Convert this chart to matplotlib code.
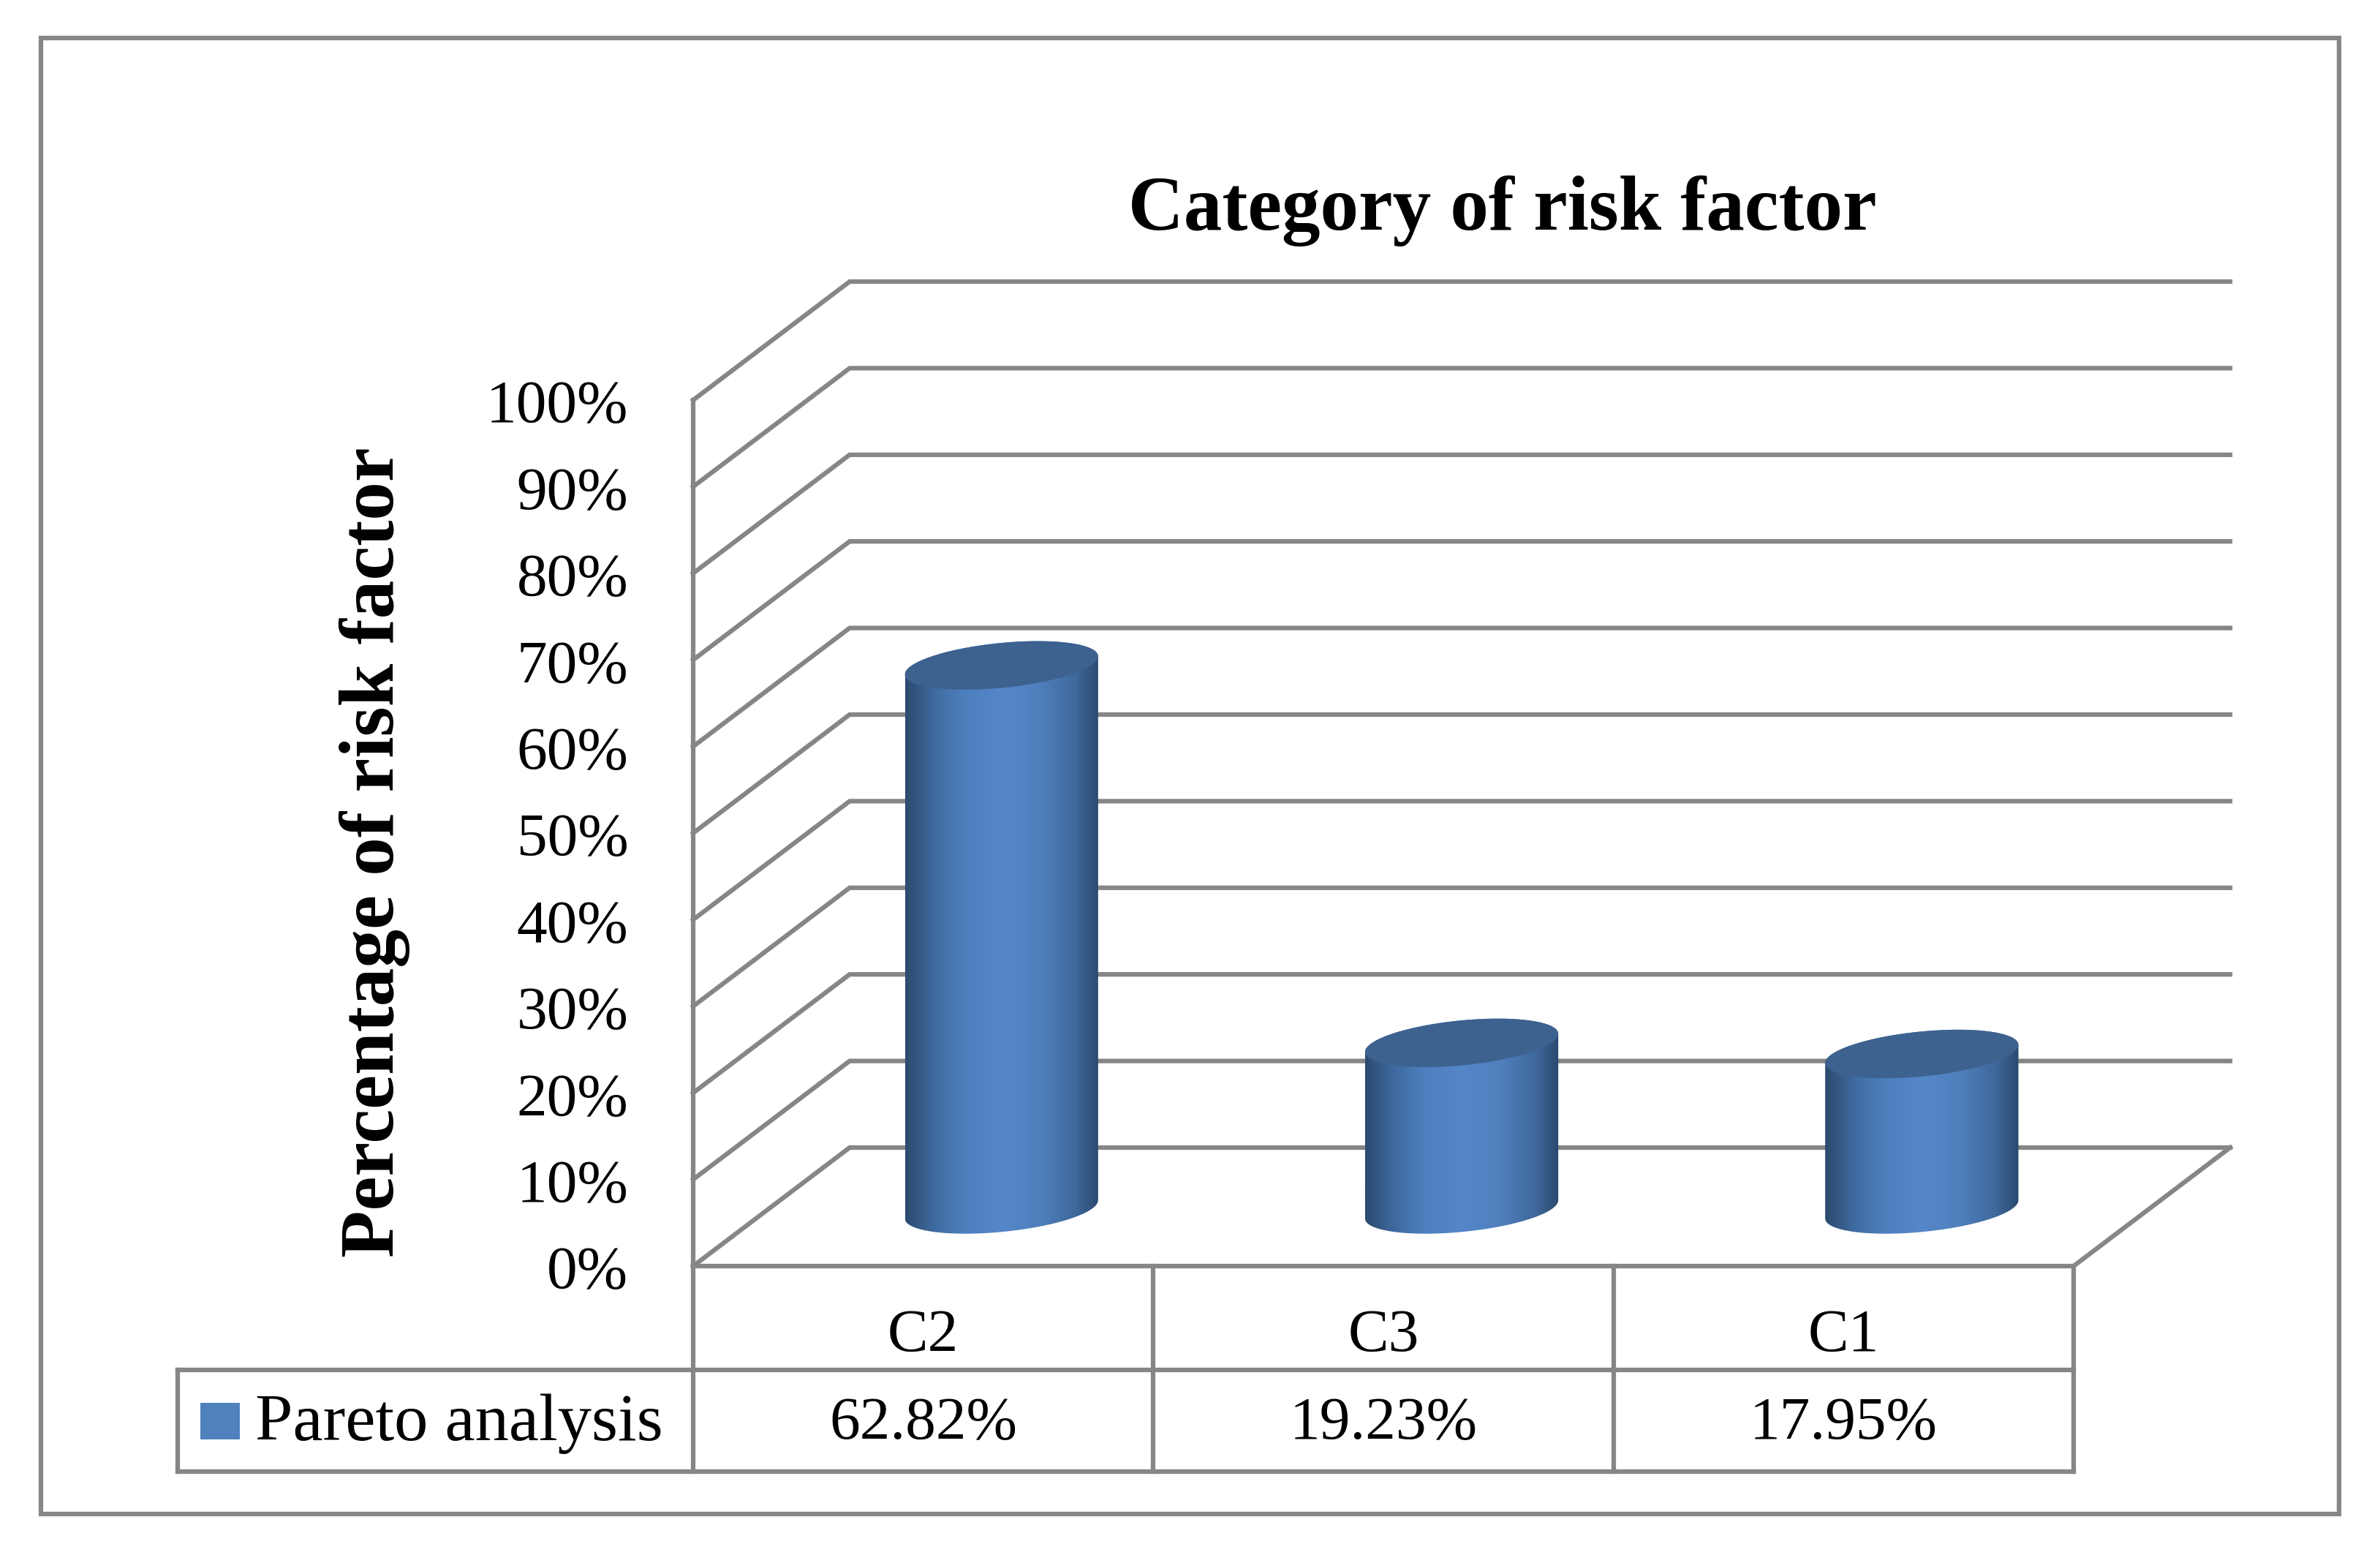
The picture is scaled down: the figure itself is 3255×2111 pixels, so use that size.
import numpy as np
import matplotlib.pyplot as plt
from matplotlib.patches import PathPatch, Rectangle
from matplotlib.path import Path
from matplotlib.colors import LinearSegmentedColormap

categories = ['C2', 'C3', 'C1']
values = [62.82, 19.23, 17.95]
value_labels = ['62.82%', '19.23%', '17.95%']
y_ticks = [0, 10, 20, 30, 40, 50, 60, 70, 80, 90, 100]
series_name = 'Pareto analysis'

W, H = 3255, 2111
GRID = '#868686'
LW = 1.5
plt.rcParams['font.family'] = ['Liberation Serif', 'DejaVu Serif']

fig = plt.figure(figsize=(W / 300, H / 300), dpi=300)
# axes covers the front plane of the 3D box
x0, x1, y0, y1 = 948, 2836, 1731, 547
ax = fig.add_axes([x0 / W, 1 - y0 / H, (x1 - x0) / W, (y0 - y1) / H])
ax.axis('off')


def px_to_y(yp):
    # pixel row to data units, for things below the axis
    return (y0 - yp) / (y0 - y1) * 100


# depth of the box in data units
dx = 214 / (x1 - x0) * 3
dy = 162 / (y0 - y1) * 100

for t in y_ticks:
    ax.plot([0, dx, 3 + dx], [t, t + dy, t + dy], color=GRID, lw=LW, clip_on=False,
            solid_joinstyle='miter')
    ax.text(-0.141, t - 0.9, f'{t}%', ha='right', va='center', fontsize=20, clip_on=False)
ax.plot([0, 0], [0, 100], color=GRID, lw=LW, clip_on=False)
ax.plot([0, 3, 3 + dx], [0, 0, dy], color=GRID, lw=LW, clip_on=False)

# cylinders
cmap = LinearSegmentedColormap.from_list('cyl', [(0, '#2b4a6f'), (0.15, '#3f6a9f'), (0.3, '#4d7fbd'),
                                                 (0.5, '#5587c9'), (0.7, '#4f7fbc'),
                                                 (0.88, '#3f689c'), (1, '#2b4a6f')])
grad = np.linspace(0, 1, 256).reshape(1, -1)
half_w = 0.21
ell_h = 2.6
tilt = 1.05
t_arc = np.linspace(0, 2 * np.pi, 81)


def ellipse(cx, cy):
    u = np.cos(t_arc)
    v = np.sin(t_arc)
    return cx + half_w * u, cy + ell_h * v + tilt * u


for i, val in enumerate(values):
    cx = i + 0.5 + dx / 2
    base = dy / 2 - 0.3
    top = base + val
    xs, ys = ellipse(cx, base)
    xt, yt = ellipse(cx, top)
    # lower arc of the base left to right, then upper arc of the top back
    body_x = np.r_[xs[40:], xt[:41]]
    body_y = np.r_[ys[40:], yt[:41]]
    body = PathPatch(Path(np.c_[body_x, body_y], closed=False), fc='none', ec='none')
    ax.add_patch(body)
    im = ax.imshow(grad, cmap=cmap, extent=[cx - half_w, cx + half_w, base - 8, top + 8],
                   aspect='auto', zorder=3)
    im.set_clip_path(body)
    ax.fill(xt, yt, color='#3d6290', zorder=4, lw=0)
ax.set_xlim(0, 3)
ax.set_ylim(0, 100)

# data table under the axis
row1, row2 = px_to_y(1873), px_to_y(2012)
left = (243 - x0) / (x1 - x0) * 3
for c in range(4):
    ax.plot([c, c], [0, row2], color=GRID, lw=LW, clip_on=False)
for d in (row1, row2):
    ax.plot([left, 3], [d, d], color=GRID, lw=LW, clip_on=False)
ax.plot([left, left], [row1, row2], color=GRID, lw=LW, clip_on=False)
for i, (cat, lab) in enumerate(zip(categories, value_labels)):
    ax.text(i + 0.5, px_to_y(1827), cat, ha='center', va='center', fontsize=20, clip_on=False)
    ax.text(i + 0.5, px_to_y(1947), lab, ha='center', va='center', fontsize=20, clip_on=False)

fig.add_artist(Rectangle((274 / W, 1 - 1968 / H), 54 / W, 50 / H, transform=fig.transFigure,
                         fc='#4f81bd', ec='none'))
fig.text(349 / W, 1 - 1947 / H, series_name, ha='left', va='center', fontsize=22.2)

# titles and outer frame
fig.text(2055 / W, 1 - 288 / H, 'Category of risk factor', ha='center', va='center',
         fontsize=25.2, fontweight='bold')
fig.text(512 / W, 1 - 1165 / H, 'Percentage of risk factor', ha='center', va='center',
         rotation=90, fontsize=25.3, fontweight='bold')
fig.add_artist(Rectangle((56 / W, 1 - 2070 / H), 3143 / W, 2018 / H, transform=fig.transFigure,
                         fc='none', ec=GRID, lw=LW))

fig.savefig('out.png', dpi=300)
